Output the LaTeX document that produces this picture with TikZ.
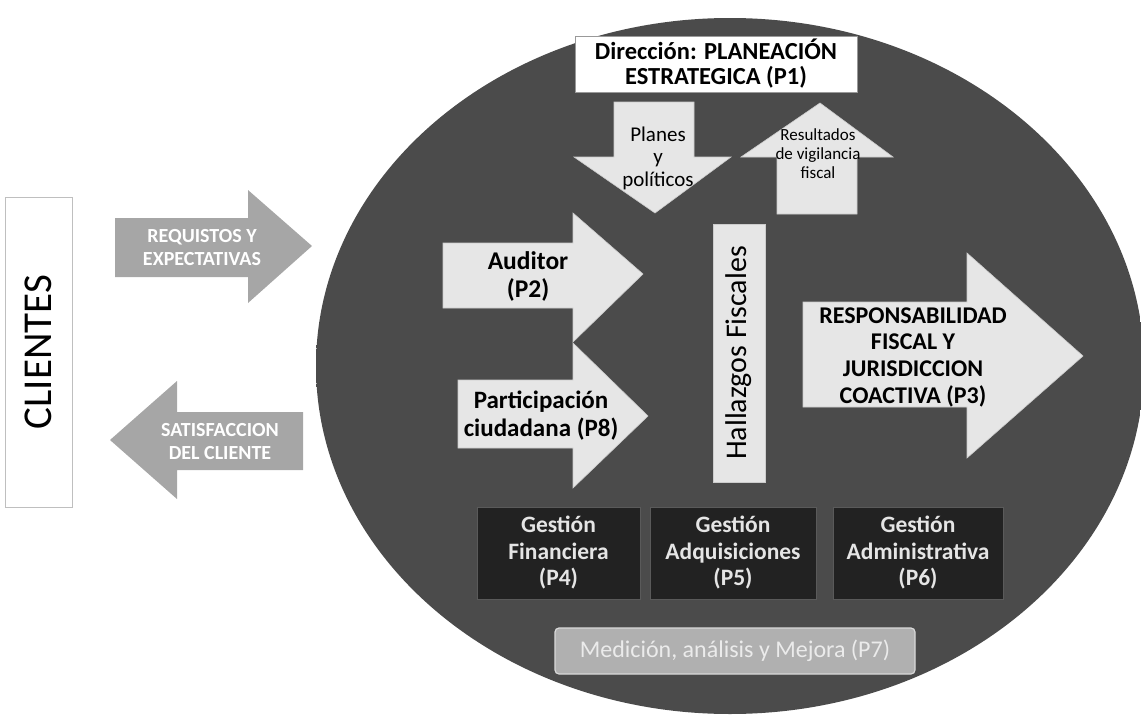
\documentclass[tikz,border=0pt]{standalone}
\usepackage{fontspec}
\setmainfont{Carlito}
\definecolor{balldark}{HTML}{4B4B4B}
\definecolor{ballmid}{HTML}{6E6E6E}
\definecolor{balledge}{HTML}{C8C8C8}
\definecolor{arrowfill}{HTML}{E6E6E6}
\definecolor{outfill}{HTML}{A6A6A6}
\definecolor{gestfill}{HTML}{222222}
\definecolor{gestdraw}{HTML}{5A5A5A}
\definecolor{medfill}{HTML}{B0B0B0}
\pgfdeclareradialshading{ballshade}{\pgfpoint{0bp}{0bp}}{color(0bp)=(balldark); color(32bp)=(balldark); color(44bp)=(ballmid); color(50bp)=(balledge)}
\begin{document}
\begin{tikzpicture}[x=1pt,y=-1pt,
  inarrow/.style={fill=arrowfill,draw=white!80!black,line width=0.6pt},
  outarrow/.style={fill=outfill,draw=none},
  lbl/.style={align=center,inner sep=0pt,font=\bfseries\fontsize{25}{28}\selectfont},
  outlbl/.style={align=center,inner sep=0pt,text=white,font=\bfseries\fontsize{20}{23}\selectfont},
  gestbox/.style={fill=gestfill,draw=gestdraw,line width=1pt,text=white!90!black,align=center,
     font=\bfseries\fontsize{23.5}{26.5}\selectfont}]
\useasboundingbox (0,0) rectangle (1141,715);
\clip (0,0) rectangle (1141,715);
% big disc
\shade[shading=ballshade] (730,366) ellipse [x radius=414, y radius=348];
% Direccion box
\node[fill=white,draw=black!40,minimum width=282pt,minimum height=52pt,align=center,
  font=\bfseries\fontsize{24.5}{25}\selectfont] (p1) at (716,64) {Dirección: PLANEACIÓN\\ESTRATEGICA (P1)};
% Planes arrow (down)
\path[inarrow] (614,102) -- (694,102) -- (694,157) -- (731,157) -- (655,213) -- (574,157) -- (614,157) -- cycle;
\node[align=center,inner sep=0pt,font=\fontsize{21}{22.5}\selectfont] (planes) at (658,158) {Planes\\y\\políticos};
% Resultados arrow (up)
\path[inarrow] (820,103) -- (893,157) -- (857,157) -- (857,214) -- (777,214) -- (777,157) -- (741,157) -- cycle;
\node[align=center,inner sep=0pt,font=\fontsize{17}{19}\selectfont] (result) at (818,154) {Resultados\\de vigilancia\\fiscal};
% Hallazgos bar
\node[fill=arrowfill,draw=white!80!black,minimum width=258pt,minimum height=52pt,rotate=90,
  font=\fontsize{30}{32}\selectfont] (hall) at (739,353) {Hallazgos Fiscales};
% Auditor arrow
\path[inarrow] (443,243) -- (573,243) -- (573,213) -- (643,274) -- (573,342) -- (573,308) -- (443,308) -- cycle;
\node[lbl,font=\bfseries\fontsize{25.5}{28}\selectfont] (aud) at (528,276) {Auditor\\(P2)};
% Participacion arrow
\path[inarrow] (458,380) -- (573,380) -- (573,343) -- (648,416) -- (573,488) -- (573,448) -- (458,448) -- cycle;
\node[lbl] (part) at (541,416) {Participación\\ciudadana (P8)};
% Responsabilidad arrow
\path[inarrow] (803,302) -- (967,302) -- (967,253) -- (1083,356) -- (967,458) -- (967,407) -- (803,407) -- cycle;
\node[lbl,font=\bfseries\fontsize{24}{26.7}\selectfont] (p3) at (913,357) {RESPONSABILIDAD\\FISCAL Y\\JURISDICCION\\COACTIVA (P3)};
% Gestion boxes
\node[gestbox,minimum width=163pt,minimum height=92pt] (p4) at (558.5,553) {Gestión\\Financiera\\(P4)};
\node[gestbox,minimum width=166pt,minimum height=92pt] (p5) at (733,553) {Gestión\\Adquisiciones\\(P5)};
\node[gestbox,minimum width=170pt,minimum height=92pt] (p6) at (918,553) {Gestión\\Administrativa\\(P6)};
% Medicion
\node[fill=medfill,draw=white!85!black,line width=1.2pt,rounded corners=4pt,minimum width=360pt,minimum height=46pt,
  text=white!92!black,font=\fontsize{24}{26}\selectfont] (p7) at (735,651) {Medición, análisis y Mejora (P7)};
% Clientes
\node[draw=black!25,fill=white,minimum width=310pt,minimum height=67pt,rotate=90,
  font=\fontsize{41}{43}\selectfont] (cli) at (38.5,352) {CLIENTES};
% Requisitos arrow
\path[outarrow] (115,218) -- (248,218) -- (248,190) -- (312,246) -- (248,303) -- (248,277) -- (115,277) -- cycle;
\node[outlbl] (req) at (202,248) {REQUISTOS Y\\EXPECTATIVAS};
% Satisfaccion arrow
\path[outarrow] (303,412) -- (177,412) -- (177,381) -- (110,440) -- (177,499) -- (177,470) -- (303,470) -- cycle;
\node[outlbl] (sat) at (220,442) {SATISFACCION\\DEL CLIENTE};
\end{tikzpicture}
\end{document}
